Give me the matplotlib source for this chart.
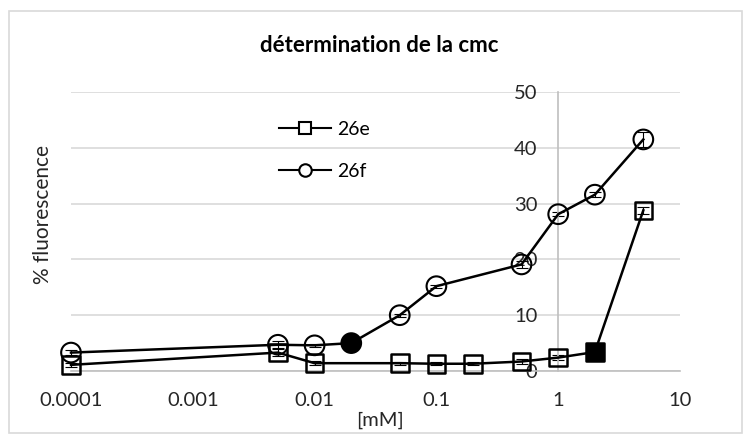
import numpy as np
import matplotlib
matplotlib.use('Agg')
import matplotlib.pyplot as plt
from matplotlib.patches import Rectangle

plt.rcParams['font.family'] = ['Lato', 'DejaVu Sans']

# 26e (squares)
conc_e = [0.0001, 0.005, 0.01, 0.05, 0.1, 0.2, 0.5, 1, 2, 5]
fluo_e = [1.1, 3.3, 1.4, 1.4, 1.3, 1.3, 1.7, 2.4, 3.4, 28.8]
err_e = [0.4, 0.6, 0.4, 0.3, 0.3, 0.3, 0.4, 0.4, 0.3, 0.6]

# 26f (circles)
conc_f = [0.0001, 0.005, 0.01, 0.02, 0.05, 0.1, 0.5, 1, 2, 5]
fluo_f = [3.3, 4.7, 4.6, 5.0, 10.0, 15.2, 19.1, 28.1, 31.6, 41.5]
err_f = [0.5, 0.6, 0.3, 0.3, 0.3, 0.3, 0.7, 0.4, 0.4, 1.4]

# filled marker = cmc point
cmc_e = 8
cmc_f = 3

xticks = [0.0001, 0.001, 0.01, 0.1, 1, 10]
xticklabels = ['0.0001', '0.001', '0.01', '0.1', '1', '10']
yticks = [0, 10, 20, 30, 40, 50]

fig = plt.figure(figsize=(7.43, 4.34), dpi=100)
ax = fig.add_axes([71 / 743, 1 - 371 / 434, 609 / 743, 279 / 434])

# chart border
fig.patches.append(Rectangle((8.5 / 743, 1 / 434), 733 / 743, 422.5 / 434,
                             transform=fig.transFigure, fill=False,
                             edgecolor='#d9d9d9', linewidth=1.2))

ax.set_xscale('log')
ax.set_xlim(0.0001, 10)
ax.set_ylim(0, 50)

lw = 1.8
for c, f, e in [(conc_e, fluo_e, err_e), (conc_f, fluo_f, err_f)]:
    eb = ax.errorbar(c, f, yerr=e, fmt='none', ecolor='black',
                     elinewidth=0.8, capsize=4, capthick=0.8, zorder=2)
    for art in eb.lines[1] + eb.lines[2]:
        art.set_clip_on(False)

fc_e = ['black' if i == cmc_e else 'none' for i in range(len(conc_e))]
fc_f = ['black' if i == cmc_f else 'none' for i in range(len(conc_f))]

ax.plot(conc_e, fluo_e, color='black', lw=lw, zorder=3, clip_on=False)
ax.scatter(conc_e, fluo_e, marker='s', s=160, facecolors=fc_e,
           edgecolors='black', linewidths=1.8, zorder=4, clip_on=False)
ax.plot(conc_f, fluo_f, color='black', lw=lw, zorder=3, clip_on=False)
ax.scatter(conc_f, fluo_f, marker='o', s=200, facecolors=fc_f,
           edgecolors='black', linewidths=1.5, zorder=4, clip_on=False)

# legend proxies
h1, = ax.plot([], [], color='black', lw=1.5, marker='s', ms=9,
              mfc='white', mec='black', mew=1.5, label='26e')
h2, = ax.plot([], [], color='black', lw=1.5, marker='o', ms=9,
              mfc='white', mec='black', mew=1.5, label='26f')
leg = ax.legend(handles=[h1, h2], loc='upper left',
                bbox_to_anchor=(0.312, 0.96), frameon=False, fontsize=14,
                handlelength=2.7, handletextpad=0.3, labelspacing=1.3)

ax.grid(axis='y', color='#d9d9d9', lw=1.2, zorder=0)
ax.set_axisbelow(True)
ax.spines['left'].set_position(('data', 1))
ax.spines['left'].set_color('#bfbfbf')
ax.spines['left'].set_linewidth(1.2)
ax.spines['bottom'].set_color('#bfbfbf')
ax.spines['bottom'].set_linewidth(1.2)
ax.spines['top'].set_visible(False)
ax.spines['right'].set_visible(False)

ax.set_xticks(xticks)
ax.set_xticklabels(xticklabels)
ax.xaxis.set_minor_locator(matplotlib.ticker.NullLocator())
ax.set_yticks(yticks)
ax.tick_params(axis='both', length=0, labelsize=14.5, colors='#262626')
ax.tick_params(axis='x', pad=15)
ax.tick_params(axis='y', pad=15)

fig.text(379 / 743, 1 - 46 / 434, 'détermination de la cmc', ha='center',
         va='center', fontsize=16, fontweight='bold', color='black')
fig.text(43 / 743, 1 - 214 / 434, '% fluorescence', ha='center',
         va='center', rotation=90, fontsize=15, color='#262626')
fig.text(380 / 743, 1 - 420 / 434, '[mM]', ha='center', va='center',
         fontsize=14.5, color='#262626')

fig.savefig('out.png', dpi=100)
